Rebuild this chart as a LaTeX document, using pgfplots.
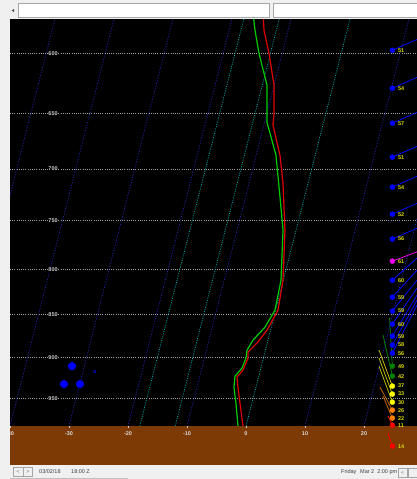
\documentclass[border=0pt]{standalone}
\usepackage{pgfplots}
\pgfplotsset{compat=1.18}
\usepackage{pgfplotstable}
\usepackage{fontspec}
\setmainfont{Liberation Sans}
\definecolor{isoblue}{RGB}{35,35,175}
\definecolor{isocyan}{RGB}{0,175,175}
\definecolor{plev}{RGB}{160,160,160}
\definecolor{ground}{RGB}{125,58,4}
\definecolor{guibg}{RGB}{240,240,240}
\definecolor{tred}{RGB}{225,0,0}
\definecolor{tdgreen}{RGB}{0,205,0}
\definecolor{lab}{RGB}{220,220,0}
\definecolor{wblue}{RGB}{0,0,255}
\definecolor{wmag}{RGB}{240,0,240}
\definecolor{wgreen}{RGB}{0,128,0}
\definecolor{wyellow}{RGB}{255,255,0}
\definecolor{wolive}{RGB}{190,190,0}
\definecolor{worange}{RGB}{255,128,0}
\definecolor{wdorange}{RGB}{200,100,0}
\definecolor{wred}{RGB}{255,0,0}

\pgfplotstableread{
T p
-14.9 570.0
-14.09 581.9
-12.25 600.0
-10.01 626.1
-8.80 649.9
-8.45 660.4
-5.97 687.3
-4.25 713.4
-1.88 759.5
-0.05 811.8
0.40 844.8
-0.60 867.6
-1.73 882.8
-2.87 893.4
-2.61 900.6
-2.94 915.1
-3.65 923.7
-3.05 936.1
-2.02 956.2
-0.51 986.0
}\temperature

\pgfplotstableread{
T p
-16.6 570.0
-15.61 581.9
-13.94 600.0
-11.20 626.1
-9.60 657.7
-6.65 687.3
-4.15 726.8
-2.21 759.5
-0.39 811.8
-0.11 844.8
-1.07 864.2
-2.54 879.3
-3.12 891.1
-2.95 900.6
-3.19 912.7
-4.03 922.5
-3.73 936.1
-2.70 956.2
-1.36 986.0
}\dewpoint

\newcommand{\skf}{\fontsize{5.5}{6}\selectfont}
\begin{document}
\begin{tikzpicture}[x=1pt,y=1pt]
\path[use as bounding box, fill=guibg] (0,0) rectangle (417,479);
\begin{axis}[at={(10pt,14pt)}, anchor=south west,
  width=407pt, height=446pt, scale only axis,
  xmin=-40, xmax=28.98, ymode=log, ymin=573.3, ymax=1038.5, y dir=reverse,
  axis line style={draw=none}, ticks=none,
  axis background/.style={fill=black}, clip=true]
% pressure levels
\pgfplotsinvokeforeach{600,650,700,750,800,850,900,950}{
  \addplot[plev, line width=0.7pt, dash pattern=on 1pt off 1.2pt] coordinates {(-40,#1) (29,#1)};
}
% isotherms
\pgfplotsinvokeforeach{-60,-50,-40,-30,-20,-10,10,20,30}{
  \addplot[isoblue, line width=0.7pt, dash pattern=on 1.2pt off 1.5pt]
    table[row sep=\\, x expr={#1+32.5*ln(986/\thisrow{p})}, y=p] {p\\ 570\\ 1040\\};
}
\pgfplotsinvokeforeach{-18,-12,0}{
  \addplot[isocyan, line width=0.7pt, dash pattern=on 1pt off 1.3pt]
    table[row sep=\\, x expr={#1+32.5*ln(986/\thisrow{p})}, y=p] {p\\ 570\\ 1040\\};
}
% sounding
\addplot[tred, line width=1.2pt] table[x expr={\thisrow{T}+32.5*ln(986/\thisrow{p})}, y=p] {\temperature};
\addplot[tdgreen, line width=1.2pt] table[x expr={\thisrow{T}+32.5*ln(986/\thisrow{p})}, y=p] {\dewpoint};
% ground
\addplot[fill=ground, draw=none] coordinates {(-41,986) (30,986) (30,1040) (-41,1040)} -- cycle;
% pressure labels
\pgfplotsinvokeforeach{600,650,700,750,800,850,900,950}{
  \node[fill=black, text=white!80!black, font=\skf\bfseries, inner sep=0.6pt] at (axis cs:-32.7,#1) {#1};
}
% temperature labels
\pgfplotsinvokeforeach{-40,-30,-20,-10,0,10,20}{
  \node[text=white!85!black, font=\skf\bfseries, inner sep=0pt] at (axis cs:#1,995.2) {#1};
  \draw[white!80!black, line width=0.6pt] (axis cs:#1,986) -- (axis cs:#1,989);
}
% wind staffs (blue)
\addplot[wblue, line width=0.8pt] coordinates {(24.8,597.6) (29.83,587.3)};
\addplot[wblue, line width=0.8pt] coordinates {(24.8,628.6) (29.83,617.8)};
\addplot[wblue, line width=0.8pt] coordinates {(24.8,658.6) (29.83,647.3)};
\addplot[wblue, line width=0.8pt] coordinates {(24.8,689.1) (29.83,677.3)};
\addplot[wblue, line width=0.8pt] coordinates {(24.8,717.2) (29.83,704.9)};
\addplot[wblue, line width=0.8pt] coordinates {(24.8,743.5) (29.83,730.7)};
\addplot[wblue, line width=0.8pt] coordinates {(24.8,768.6) (29.83,755.4)};
\addplot[wmag, line width=0.8pt] coordinates {(24.8,791.5) (29.83,779.9)};
\addplot[wblue, line width=0.8pt] coordinates {(24.8,811.8) (28.98,788.3)};
\addplot[wblue, line width=0.8pt] coordinates {(24.8,830.3) (28.98,801.0)};
\addplot[wblue, line width=0.8pt] coordinates {(24.8,845.9) (28.98,811.8)};
\addplot[wblue, line width=0.8pt] coordinates {(24.8,860.7) (28.98,820.4)};
\addplot[wblue, line width=0.8pt] coordinates {(24.8,874.6) (28.98,828.1)};
\addplot[wblue, line width=0.8pt] coordinates {(24.8,885.1) (28.98,833.7)};
\addplot[wblue, line width=0.8pt] coordinates {(24.8,894.6) (28.98,839.3)};
% wind staffs (low levels)
\addplot[wgreen, line width=0.8pt] coordinates {(24.8,910.3) (24.32,853.9)};
\addplot[wgreen, line width=0.8pt] coordinates {(24.8,922.5) (23.22,873.4)};
\addplot[wolive, line width=0.8pt] coordinates {(24.8,934.8) (22.54,891.0)};
\addplot[wolive, line width=0.8pt] coordinates {(24.8,944.8) (22.54,900.6)};
\addplot[wolive, line width=0.8pt] coordinates {(24.8,955.0) (22.54,910.3)};
\addplot[wdorange, line width=0.8pt] coordinates {(24.8,965.2) (22.71,936.1)};
\addplot[wdorange, line width=0.8pt] coordinates {(24.8,975.5) (23.22,947.3)};
\addplot[wred, line width=0.8pt] coordinates {(24.8,984.7) (24.07,972.8)};
\addplot[wred, line width=0.8pt] coordinates {(24.8,1012.6) (24.07,995.2)};
% wind dots with speeds
\pgfplotsset{windlab/.style={only marks, mark=*, mark size=2.5pt, nodes near coords, point meta=explicit symbolic,
  every node near coord/.append style={anchor=west, xshift=5.5pt, text=lab, font=\skf\bfseries, inner sep=0pt}}}
\addplot[windlab, wblue] coordinates {(24.8,597.6)[51] (24.8,628.6)[54] (24.8,658.6)[57] (24.8,689.1)[51]
  (24.8,717.2)[54] (24.8,743.5)[52] (24.8,768.6)[56] (24.8,811.8)[60] (24.8,830.3)[59] (24.8,845.9)[59]
  (24.8,860.7)[60] (24.8,874.6)[59] (24.8,885.1)[58] (24.8,894.6)[56]};
\addplot[windlab, wmag] coordinates {(24.8,791.5)[61]};
\addplot[windlab, wgreen] coordinates {(24.8,910.3)[49] (24.8,922.5)[42]};
\addplot[windlab, wyellow] coordinates {(24.8,934.8)[37] (24.8,944.8)[33] (24.8,955.0)[30]};
\addplot[windlab, worange] coordinates {(24.8,965.2)[26] (24.8,975.5)[22]};
\addplot[windlab, wred] coordinates {(24.8,984.7)[11] (24.8,1012.6)[14]};
% weather symbol at left
\addplot[only marks, mark=*, mark size=3.8pt, wblue] coordinates {(-29.49,910.3) (-30.85,932.3) (-28.14,932.3)};
\node[text=wblue, font=\skf\bfseries, inner sep=0pt] at (axis cs:-25.6,917.6) {s};
\end{axis}
% left strip
\fill[guibg] (0,14) rectangle (10,461);
% top bar
\fill[guibg] (0,461) rectangle (417,479);
\fill[black!70] (11.5,468.5) -- (14,467) -- (14,470) -- cycle;
\draw[black!35, fill=white] (18.5,461.5) rectangle (269.5,475.5);
\draw[black!35, fill=white] (273.5,461.5) rectangle (418,475.5);
% bottom bar
\fill[guibg] (0,0) rectangle (417,14);
\draw[black!35, fill=guibg] (13.5,2.5) rectangle (23,11.5);
\draw[black!35, fill=guibg] (23,2.5) rectangle (32.5,11.5);
\node[font=\fontsize{5}{5}\selectfont, text=black!60] at (18.2,7) {<};
\node[font=\fontsize{5}{5}\selectfont, text=black!60] at (27.8,7) {>};
\node[anchor=west, font=\fontsize{5.5}{6}\selectfont, text=black!75, inner sep=0pt] at (39,7) {03/02/18};
\node[anchor=west, font=\fontsize{5.5}{6}\selectfont, text=black!75, inner sep=0pt] at (71,7) {18:00 Z};
\node[anchor=west, font=\fontsize{5.5}{6}\selectfont, text=black!75, inner sep=0pt] at (341,6.5) {Friday};
\node[anchor=west, font=\fontsize{5.5}{6}\selectfont, text=black!75, inner sep=0pt] at (360,6.5) {Mar 2\ \ 2:00 pm};
\draw[black!35, fill=guibg] (398,1.5) rectangle (407,10.5);
\node[font=\fontsize{5}{5}\selectfont, text=black!60] at (402.5,6) {<};
\draw[black!35, fill=guibg] (408,1.5) rectangle (418,10.5);
\draw[black!25, line width=1pt] (10,0.5) -- (128,0.5);
\end{tikzpicture}
\end{document}
